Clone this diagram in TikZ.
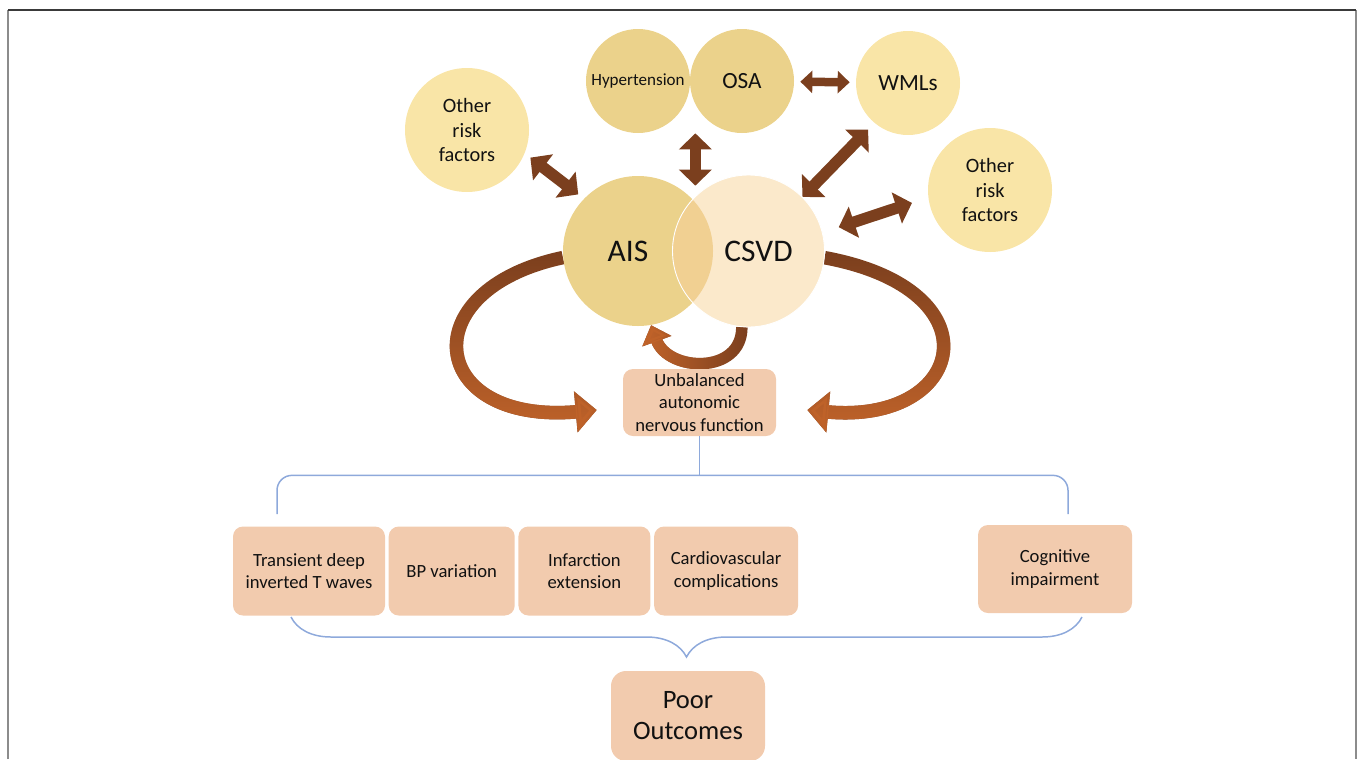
\documentclass[tikz,border=0pt]{standalone}
\usepackage{fontspec}
\setmainfont{Carlito}
\usepackage{tikz}
\usetikzlibrary{arrows.meta,positioning,calc,fadings,backgrounds,decorations.pathreplacing}
\definecolor{ink}{HTML}{111111}
\definecolor{gold}{HTML}{EBD28B}
\definecolor{pale}{HTML}{F9E5A7}
\definecolor{peach}{HTML}{FBE9CB}
\definecolor{overlapgold}{HTML}{F1D092}
\definecolor{boxfill}{HTML}{F2CBAE}
\definecolor{arrowbrown}{HTML}{7B3F1E}
\definecolor{rust}{HTML}{C0632A}
\definecolor{lineblue}{HTML}{8EA9DB}
\definecolor{framegray}{HTML}{8C8C8C}
\definecolor{frametop}{HTML}{3A3A3A}
\tikzset{
  bubble/.style={circle,inner sep=0pt,align=center,text=ink},
  riskfont/.style={font=\fontsize{11.6}{14}\selectfont},
  bigtext/.style={font=\fontsize{17.9}{20}\selectfont,text=ink},
  outcome/.style={rounded corners=2mm,fill=boxfill,align=center,inner sep=0pt,
    minimum height=1.78cm,text=ink,font=\fontsize{10.6}{12.6}\selectfont},
  twoway/.style={{Triangle[width=6.4mm,length=3.2mm]}-{Triangle[width=6.4mm,length=3.2mm]},
    line width=2.3mm,draw=arrowbrown},
  smalltwoway/.style={{Triangle[width=4.4mm,length=2.4mm]}-{Triangle[width=4.4mm,length=2.4mm]},
    line width=1.7mm,draw=arrowbrown},
  loop/.style={-{Triangle[width=8mm,length=4.2mm]},line width=2.7mm},
  smallloop/.style={-{Triangle[width=6mm,length=3.4mm]},line width=2.3mm},
  bline/.style={draw=lineblue,line width=.85pt},
}

\begin{document}
\begin{tikzpicture}[x=1cm,y=1cm]
  \useasboundingbox (0,0) rectangle (27.2,-15.18);
  % frame
  \draw[framegray,line width=1.2pt] (0.16,-15.18) -- (0.16,-0.2);
  \draw[framegray,line width=1.2pt] (27.12,-0.2) -- (27.12,-15.18);
  \draw[frametop,line width=1pt] (0.16,-0.2) -- (27.12,-0.2);

  % risk factors
  \node[bubble,riskfont,fill=pale,minimum size=2.48cm] (oL) at (9.34,-2.6) {Other\\risk\\factors};
  \node[bubble,fill=gold,minimum size=2.08cm,font=\fontsize{9.7}{11}\selectfont] (hyp) at (12.76,-1.62) {Hypertension};
  \node[bubble,fill=gold,minimum size=2.08cm,font=\fontsize{13.2}{15}\selectfont] (osa) at (14.84,-1.62) {OSA};
  \node[bubble,fill=pale,minimum size=2.08cm,font=\fontsize{13.2}{15}\selectfont] (wml) at (18.16,-1.66) {WMLs};
  \node[bubble,riskfont,fill=pale,minimum size=2.48cm] (oR) at (19.8,-3.8) {Other\\risk\\factors};

  % AIS and CSVD
  \node[bubble,fill=gold,minimum size=3.0cm] (ais) at (12.76,-5.02) {};
  \node[bubble,fill=peach,minimum size=3.04cm] (csvd) at (14.97,-5.02) {};
  \begin{scope}
    \clip (ais.center) circle (1.5);
    \fill[overlapgold] (csvd.center) circle (1.52);
  \end{scope}
  \draw[white,line width=.5pt] (csvd.center) circle (1.52);
  \node[bigtext] at ([xshift=-0.2cm]ais.center) {AIS};
  \node[bigtext] at ([xshift=0.2cm]csvd.center) {CSVD};

  % two-way arrows
  \draw[twoway,shorten <=0.14cm,shorten >=0.14cm] (oL.-22) -- (ais.136);
  \draw[twoway,shorten >=-0.2cm] ([xshift=1mm]hyp.east |- osa.south) -- ([xshift=1mm]hyp.east |- ais.north);
  \draw[smalltwoway,shorten <=0.12cm,shorten >=0.12cm] (osa) -- (wml);
  \draw[twoway,shorten <=0.18cm] (wml.230) -- (csvd.45);
  \draw[twoway,shorten <=0.34cm,shorten >=0.34cm] (oR.187) -- (csvd.14);

  % autonomic function
  \node[outcome,minimum width=3.06cm,minimum height=1.34cm] (unb) at (13.99,-8.05)
    {Unbalanced\\autonomic\\nervous function};

  \begin{scope}[on background layer]
    \draw[loop,arrowbrown] (ais.185) .. controls (8.2,-5.8) and (8.56,-8.5) .. ([xshift=-0.52cm,yshift=-0.15cm]unb.west);
    \draw[loop,rust,path fading=north] (ais.185) .. controls (8.2,-5.8) and (8.56,-8.5) .. ([xshift=-0.52cm,yshift=-0.15cm]unb.west);
    \draw[loop,arrowbrown] (csvd.-5) .. controls (20.0,-5.8) and (19.3,-8.5) .. ([xshift=0.62cm,yshift=-0.15cm]unb.east);
    \draw[loop,rust,path fading=north] (csvd.-5) .. controls (20.0,-5.8) and (19.3,-8.5) .. ([xshift=0.62cm,yshift=-0.15cm]unb.east);
    \draw[smallloop,arrowbrown] (csvd.265) .. controls (14.84,-7.5) and (13.36,-7.44) .. (ais.280);
    \draw[smallloop,rust,path fading=east] (csvd.265) .. controls (14.84,-7.5) and (13.36,-7.44) .. (ais.280);
  \end{scope}

  % consequences
  \coordinate (tj) at ([yshift=-0.78cm]unb.south);
  \coordinate (lb) at (5.54,-10.28);
  \coordinate (rb) at (21.36,-10.28);
  \draw[bline] (unb.south) -- (tj);
  \draw[bline,rounded corners=0.3cm] (lb) |- (tj) -| (rb);

  \node[outcome,minimum width=3.04cm] (ecg) at (6.18,-11.42) {Transient deep\\inverted T waves};
  \node[outcome,minimum width=2.52cm,right=0.06cm of ecg] (bp) {BP variation};
  \node[outcome,minimum width=2.64cm,right=0.06cm of bp] (inf) {Infarction\\extension};
  \node[outcome,minimum width=2.88cm,right=0.06cm of inf] (cardio) {Cardiovascular\\complications};
  \node[outcome,minimum width=3.08cm,minimum height=1.76cm] (cog) at (21.1,-11.38) {Cognitive\\impairment};

  \draw[bline,decorate,decoration={brace,amplitude=0.8cm,mirror}] (5.82,-12.34) -- (21.64,-12.34);

  \node[outcome,minimum width=3.08cm,minimum height=1.8cm,rounded corners=3mm,
    font=\fontsize{15.1}{17.6}\selectfont] (poor) at (13.76,-14.32) {Poor\\Outcomes};
\end{tikzpicture}
\end{document}
